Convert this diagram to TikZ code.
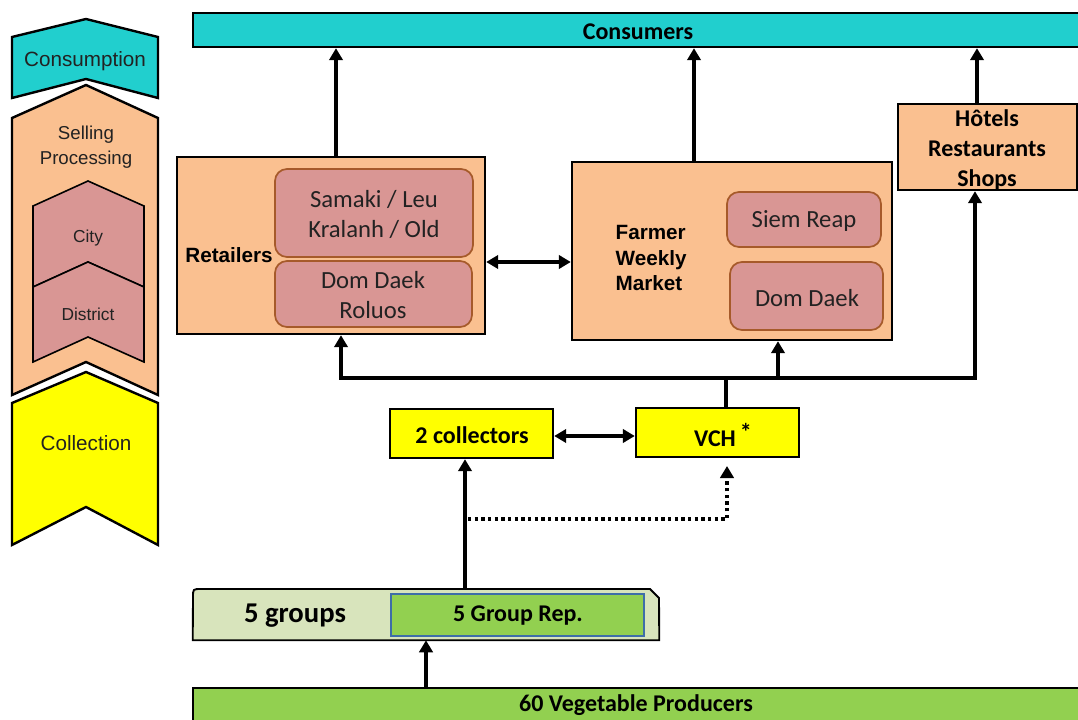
\documentclass[tikz,border=0pt]{standalone}
\usepackage{fontspec}
\setmainfont{Carlito}
\newfontfamily\arialfont{Liberation Sans}
\usetikzlibrary{arrows.meta,fit}
\definecolor{tealbar}{HTML}{21CFCE}
\definecolor{peach}{HTML}{FAC090}
\definecolor{rose}{HTML}{D99694}
\definecolor{rustline}{HTML}{A65A2A}
\definecolor{lemon}{HTML}{FFFF00}
\definecolor{leaf}{HTML}{92D050}
\definecolor{paleleaf}{HTML}{D8E4BC}
\definecolor{steel}{HTML}{3E6EA8}
\definecolor{ink}{HTML}{222222}
\begin{document}
\begin{tikzpicture}[x=0.75pt,y=-0.75pt,
  box/.style={draw=black, line width=1.8pt, inner sep=0pt},
  subbox/.style={draw=rustline, fill=rose, line width=1.3pt, rounded corners=9pt, inner sep=0pt},
  conn/.style={line width=2.6pt, line join=miter},
  arr/.style={conn, -{Triangle[width=10pt,length=9pt]}},
  darr/.style={conn, {Triangle[width=10pt,length=9pt]}-{Triangle[width=10pt,length=9pt]}},
  dotarr/.style={line width=2.4pt, dash pattern=on 2.4pt off 2.6pt, -{Triangle[width=10pt,length=9pt]}},
  chev/.style={draw=black, line width=1.8pt, line join=miter},
  innerchev/.style={draw=black, line width=1.2pt, line join=miter, fill=rose},
  lbl/.style={font=\fontsize{18}{22}\selectfont\bfseries, align=center},
  plain/.style={font=\fontsize{18.5}{22.5}\selectfont, text=ink, align=center},
  sidetxt/.style={font=\arialfont\fontsize{15.5}{19}\selectfont, text=ink, align=center},
  sidemid/.style={font=\arialfont\fontsize{14}{18.5}\selectfont, text=ink, align=center},
  sidesmall/.style={font=\arialfont\fontsize{13}{16}\selectfont, text=ink, align=center},
  heavy/.style={font=\arialfont\bfseries\fontsize{15.5}{19.2}\selectfont, align=left}]
\useasboundingbox (0,0) rectangle (1078,720);

% ---- stage chevrons on the left ----
\draw[chev, fill=tealbar] (12,37) -- (86,19) -- (158,37) -- (158,98) -- (86,79) -- (12,98) -- cycle;
\node[sidetxt] (sConsumption) at (85,61) {Consumption};
\draw[chev, fill=peach] (12,118) -- (86,85) -- (158,118) -- (158,395) -- (86,362) -- (12,395) -- cycle;
\node[sidemid] (sSelling) at (86,147) {Selling\\Processing};
\draw[innerchev] (33,206) -- (88,181) -- (144,206) -- (144,287) -- (88,262) -- (33,287) -- cycle;
\node[sidesmall] (sCity) at (88,238) {City};
\draw[innerchev] (33,287) -- (88,262) -- (144,287) -- (144,362) -- (88,337) -- (33,362) -- cycle;
\node[sidesmall] (sDistrict) at (88,314) {District};
\draw[chev, fill=lemon] (12,403) -- (86,372) -- (158,403) -- (158,545) -- (86,507) -- (12,545) -- cycle;
\node[sidetxt] (sCollection) at (86,443) {Collection};

% ---- consumers ----
\node[box, fill=tealbar, fit={(193,13) (1084,47)}] (cons) {};
\node[lbl] (consT) at (638,32) {Consumers};

% ---- retailers ----
\node[box, fill=peach, fit={(177,157) (485,334)}] (ret) {};
\node[heavy] (retT) at (229,255) {Retailers};
\node[subbox, fit={(275,169) (473,257)}] (sam) {};
\node[plain] (samT) at (374,214) {Samaki / Leu\\Kralanh / Old};
\node[subbox, fit={(275,261) (472,327)}] (ddr) {};
\node[plain] (ddrT) at (373,295) {Dom Daek\\Roluos};

% ---- farmer weekly market ----
\node[box, fill=peach, fit={(572,162) (892,340)}] (fwm) {};
\node[heavy, anchor=west] (fwmT) at (611,258) {Farmer\\Weekly\\Market};
\node[subbox, fit={(727,192) (881,247)}] (sr) {};
\node[plain] (srT) at (804,221) {Siem Reap};
\node[subbox, fit={(730,262) (883,330)}] (dd) {};
\node[plain] (ddT) at (807,298) {Dom Daek};

% ---- hotels ----
\node[box, fill=peach, fit={(898,104) (1077,190)}] (hot) {};
\node[lbl, font=\fontsize{18}{22.2}\selectfont\bfseries] (hotT) at (987,150) {Hôtels\\Restaurants\\Shops};

% ---- collectors and VCH ----
\node[box, fill=lemon, fit={(390,409) (553,458)}] (col) {};
\node[lbl] (colT) at (472,435) {2 collectors};
\node[box, fill=lemon, fit={(636,408) (799,457)}] (vch) {};
\node[lbl] (vchT) at (723,435) {VCH\,\raisebox{5pt}{*}};

% ---- groups ----
\node[inner sep=0pt, fit={(193,589) (659,640)}] (grp) {};
\draw[line width=1.4pt, fill=paleleaf] (grp.south west) -- (193,597) .. controls (193,589) .. (201,589) -- (650,589) -- (659,598) -- (grp.south east) -- cycle;
\node[lbl, font=\fontsize{21.5}{25}\selectfont\bfseries] (grpT) at (295,616) {5 groups};
\node[draw=steel, fill=leaf, line width=1.5pt, inner sep=0pt, fit={(391,594) (644,636)}] (rep) {};
\node[lbl] (repT) at (518,616) {5 Group Rep.};

% ---- producers ----
\node[box, fill=leaf, fit={(193,688) (1084,726)}] (prod) {};
\node[lbl] (prodT) at (636,705) {60 Vegetable Producers};

% ---- flows to consumers ----
\coordinate (c1) at (336,157);
\coordinate (c2) at (694,162);
\coordinate (c3) at (977,104);
\draw[arr] (c1) -- (c1 |- cons.south);
\draw[arr] (c2) -- (c2 |- cons.south);
\draw[arr] (c3) -- (c3 |- cons.south);

% ---- exchange between markets ----
\coordinate (d1) at (530,262);
\draw[darr] (d1 -| ret.east) -- (d1 -| fwm.west);
\coordinate (d2) at (595,436);
\draw[darr] (d2 -| col.east) -- (d2 -| vch.west);

% ---- distribution from VCH ----
\coordinate (j0) at (726,378);
\coordinate (jl) at (341,378);
\coordinate (jm) at (778,378);
\coordinate (jr) at (975,378);
\draw[conn] (j0 |- vch.north) -- (j0);
\draw[arr] (j0) -- (jl) -- (jl |- ret.south);
\draw[arr] (j0) -- (jr) -- (jr |- hot.south);
\draw[arr] (jm) -- (jm |- fwm.south);

% ---- collection flows ----
\coordinate (g1) at (465,589);
\draw[arr] (g1) -- (g1 |- col.south);
\coordinate (t1) at (468,519);
\coordinate (t2) at (727,519);
\coordinate (t3) at (727,466);
\draw[dotarr] (t1) -- (t2) -- (t3);
\coordinate (p1) at (426,688);
\draw[arr] (p1) -- (p1 |- grp.south);
\end{tikzpicture}
\end{document}
